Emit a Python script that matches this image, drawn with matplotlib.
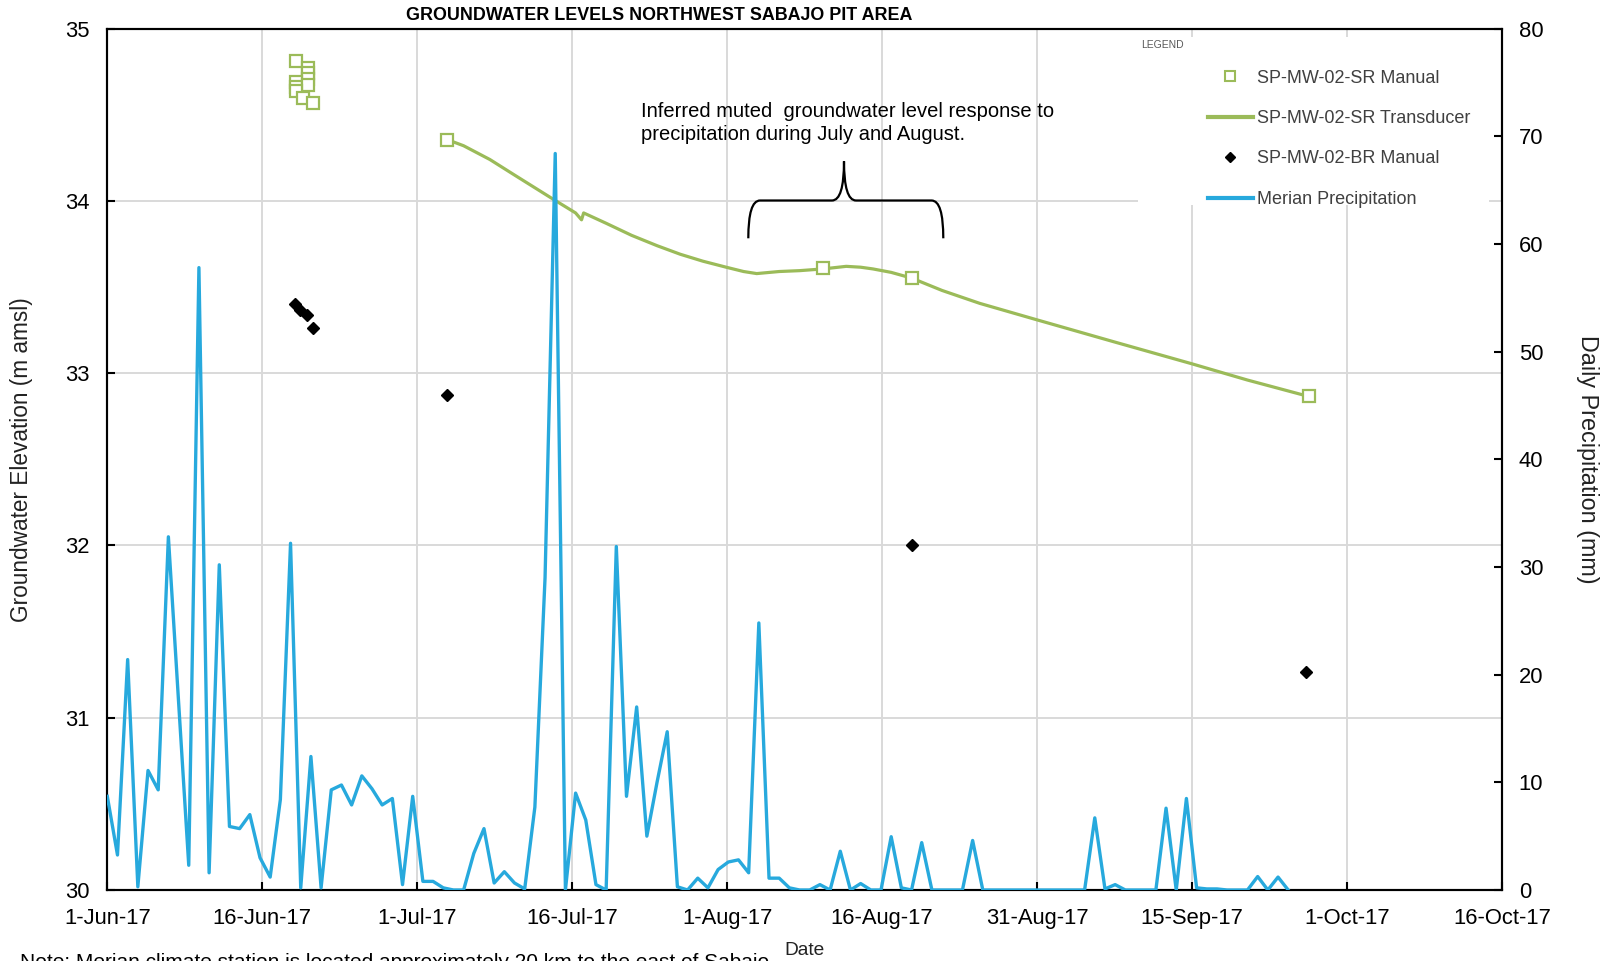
import matplotlib
matplotlib.use('Agg')
import matplotlib.pyplot as plt
import matplotlib.dates as mdates
from matplotlib.path import Path
from matplotlib.patches import PathPatch, Rectangle
from matplotlib.lines import Line2D
import numpy as np
import pandas as pd

plt.rcParams['font.family'] = ['Liberation Sans', 'DejaVu Sans']

# ---------------- data ----------------
precip_start = '2017-06-01'
precip_mm = [
    8.7, 3.25, 21.4, 0.3, 11.1, 9.3, 32.8, 17.5, 2.3, 57.8,
    1.6, 30.2, 5.9, 5.7, 7.0, 3.0, 1.2, 8.4, 32.2, 0.2,
    12.4, 0.2, 9.3, 9.75, 7.9, 10.6, 9.4, 7.9, 8.5, 0.5,
    8.7, 0.8, 0.8, 0.2, 0.0, 0.0, 3.4, 5.7, 0.65, 1.7,
    0.65, 0.1, 7.7, 29.0, 68.4, 0.0, 9.0, 6.5, 0.5, 0.0,
    31.9, 8.7, 17.0, 5.0, 10.0, 14.7, 0.3, 0.0, 1.1, 0.2,
    1.9, 2.6, 2.8, 1.6, 24.8, 1.1, 1.1, 0.2, 0.0, 0.0,
    0.5, 0.0, 3.6, 0.0, 0.6, 0.0, 0.0, 4.95, 0.2, 0.0,
    4.4, 0.0, 0.0, 0.0, 0.0, 4.6, 0.0, 0.0, 0.0, 0.0,
    0.0, 0.0, 0.0, 0.0, 0.0, 0.0, 0.0, 6.7, 0.1, 0.5,
    0.0, 0.0, 0.0, 0.0, 7.6, 0.0, 8.5, 0.2, 0.1, 0.1,
    0.0, 0.0, 0.0, 1.25, 0.0, 1.2, 0.0,
]

sr_manual_dates = [
    '2017-06-19 14:00', '2017-06-20 18:00', '2017-06-20 18:00', '2017-06-20 18:00',
    '2017-06-19 14:00', '2017-06-19 14:00', '2017-06-20 18:00', '2017-06-19 14:00',
    '2017-06-20 06:00', '2017-06-21 05:00',
    '2017-07-04 10:00', '2017-08-10 07:00', '2017-08-19 00:00', '2017-09-27 00:00',
]
sr_manual_levels = [
    34.81, 34.77, 34.74, 34.71,
    34.69, 34.66, 34.67, 34.64,
    34.60, 34.57,
    34.355, 33.61, 33.55, 32.865,
]

sr_trans_dates = [
    '2017-07-04 10:00', '2017-07-06 00:00', '2017-07-08 14:00', '2017-07-11 00:00',
    '2017-07-14 19:00', '2017-07-17 00:00', '2017-07-17 14:00', '2017-07-17 19:00',
    '2017-07-20 00:00', '2017-07-22 12:00', '2017-07-25 00:00', '2017-07-27 07:00',
    '2017-07-29 12:00', '2017-07-31 19:00', '2017-08-02 12:00', '2017-08-03 19:00',
    '2017-08-06 00:00', '2017-08-08 00:00', '2017-08-10 07:00', '2017-08-12 14:00',
    '2017-08-14 00:00', '2017-08-15 05:00', '2017-08-17 00:00', '2017-08-19 00:00',
    '2017-08-22 00:00', '2017-08-25 17:00', '2017-08-31 07:00', '2017-09-08 00:00',
    '2017-09-15 12:00', '2017-09-21 00:00', '2017-09-27 00:00',
]
sr_trans_levels = [
    34.355, 34.32, 34.24, 34.15,
    34.01, 33.93, 33.89, 33.93,
    33.87, 33.80, 33.74, 33.69,
    33.65, 33.615, 33.59, 33.578,
    33.59, 33.595, 33.605, 33.62,
    33.615, 33.605, 33.585, 33.552,
    33.48, 33.405, 33.31, 33.18,
    33.055, 32.96, 32.865,
]

br_manual_dates = [
    '2017-06-19 10:00', '2017-06-19 22:00', '2017-06-20 14:00', '2017-06-21 05:00',
    '2017-07-04 10:00', '2017-08-19 02:00', '2017-09-26 17:00',
]
br_manual_levels = [33.40, 33.365, 33.335, 33.265, 32.875, 32.005, 31.263]

x_start, x_end = '2017-06-01', '2017-10-16'
x_tick_labels = ['1-Jun-17', '16-Jun-17', '1-Jul-17', '16-Jul-17', '1-Aug-17',
                 '16-Aug-17', '31-Aug-17', '15-Sep-17', '1-Oct-17', '16-Oct-17']
gw_ticks = [30, 31, 32, 33, 34, 35]
pr_ticks = [0, 10, 20, 30, 40, 50, 60, 70, 80]

legend_labels = ['SP-MW-02-SR Manual', 'SP-MW-02-SR Transducer',
                 'SP-MW-02-BR Manual', 'Merian Precipitation']

# ---------------- styling ----------------
GREEN = '#9BBB59'
BLUE = '#27A9DD'
GRID = '#D9D9D9'
W, H = 1602, 961
TICK_FS = 15.8

fig = plt.figure(figsize=(W / 100, H / 100), dpi=100)
ax = fig.add_axes([107.3 / W, 1 - 890 / H, 1394.7 / W, 861.4 / H])
ax2 = ax.twinx()

precip_dates = pd.date_range(precip_start, periods=len(precip_mm), freq='D')

ax.plot(pd.to_datetime(sr_trans_dates), sr_trans_levels, color=GREEN, lw=2.3, zorder=3)
ax.plot(pd.to_datetime(sr_manual_dates), sr_manual_levels, ls='none', marker='s', ms=8.5,
        mfc='white', mec=GREEN, mew=1.6, zorder=4)
ax.plot(pd.to_datetime(br_manual_dates), br_manual_levels, ls='none', marker='D', ms=6.5,
        color='black', zorder=4)
ax2.plot(precip_dates, precip_mm, color=BLUE, lw=2.4, zorder=3)

xmin = mdates.date2num(pd.Timestamp(x_start))
xmax = mdates.date2num(pd.Timestamp(x_end))
ax.set_xlim(xmin, xmax)
ax.set_xticks(np.linspace(xmin, xmax, len(x_tick_labels)))
ax.set_xticklabels(x_tick_labels)
ax.set_ylim(gw_ticks[0], gw_ticks[-1])
ax.set_yticks(gw_ticks)
ax2.set_ylim(pr_ticks[0], pr_ticks[-1])
ax2.set_yticks(pr_ticks)

ax.grid(True, color=GRID, lw=1.4)
ax.set_axisbelow(True)

for a in (ax, ax2):
    for s in a.spines.values():
        s.set_color('black')
        s.set_linewidth(1.5)
ax.tick_params(axis='y', direction='in', length=6, width=1.5, labelsize=TICK_FS, pad=12.7)
ax.tick_params(axis='x', direction='in', length=6, width=1.5, labelsize=TICK_FS, pad=12.8)
ax2.tick_params(axis='y', direction='in', length=6, width=1.5, labelsize=TICK_FS, pad=12.0)

ax.set_ylabel('Groundwater Elevation (m amsl)', fontsize=16.3, color='#222222')
ax.yaxis.set_label_coords(-0.0535, 0.5)
ax2.set_ylabel('Daily Precipitation (mm)', fontsize=16.8, color='#222222',
               rotation=270, va='bottom')
ax2.yaxis.set_label_coords(1.0531, 0.5)
ax.set_xlabel('Date', fontsize=13.8, color='#222222')
ax.xaxis.set_label_coords(0.5, -0.0604)

# legend
ax2.add_patch(Rectangle((0.739, 0.795), 0.252, 0.195, transform=ax2.transAxes,
                        facecolor='white', edgecolor='none', zorder=5))
handles = [
    Line2D([], [], ls='none', marker='s', ms=7, mfc='white', mec=GREEN, mew=1.5),
    Line2D([], [], color=GREEN, lw=3),
    Line2D([], [], ls='none', marker='D', ms=5.5, color='black'),
    Line2D([], [], color=BLUE, lw=3),
]
leg = ax2.legend(handles, legend_labels, loc='upper left', bbox_to_anchor=(0.789, 0.9525),
                 frameon=False, fontsize=13, handlelength=2.5, handletextpad=0.22,
                 labelspacing=1.3, borderpad=0, borderaxespad=0)
leg.set_zorder(6)
for t in leg.get_texts():
    t.set_color('#404040')
ax2.text(0.741, 0.981, 'LEGEND', transform=ax2.transAxes, fontsize=7.5, color='#595959',
         va='center', ha='left', zorder=7)

# annotation
ax2.text(0.383, 0.9145, 'Inferred muted  groundwater level response to\n'
         'precipitation during July and August.', transform=ax2.transAxes,
         fontsize=14.5, va='top', ha='left', linespacing=1.25, zorder=7)


def fp(x, y):
    return (x / W, 1 - y / H)


verts = [fp(748.3, 238.3), fp(748.3, 200.5), fp(760, 200.5), fp(832, 200.5),
         fp(844, 200.5), fp(844, 161.3), fp(844, 200.5), fp(856, 200.5),
         fp(931.6, 200.5), fp(943.3, 200.5), fp(943.3, 238.3)]
codes = [Path.MOVETO, Path.CURVE3, Path.CURVE3, Path.LINETO,
         Path.CURVE3, Path.CURVE3, Path.CURVE3, Path.CURVE3,
         Path.LINETO, Path.CURVE3, Path.CURVE3]
fig.add_artist(PathPatch(Path(verts, codes), transform=fig.transFigure, facecolor='none',
                         edgecolor='black', lw=1.6, zorder=10))

fig.text(659 / W, 1 - 20.4 / H, 'GROUNDWATER LEVELS NORTHWEST SABAJO PIT AREA',
         ha='center', va='baseline', fontsize=12.9, fontweight='bold')
fig.text(20.4 / W, 1 - 953 / H,
         'Note: Merian climate station is located approximately 20 km to the east of Sabajo',
         ha='left', va='top', fontsize=15.0)

fig.savefig('out.png', dpi=100)
